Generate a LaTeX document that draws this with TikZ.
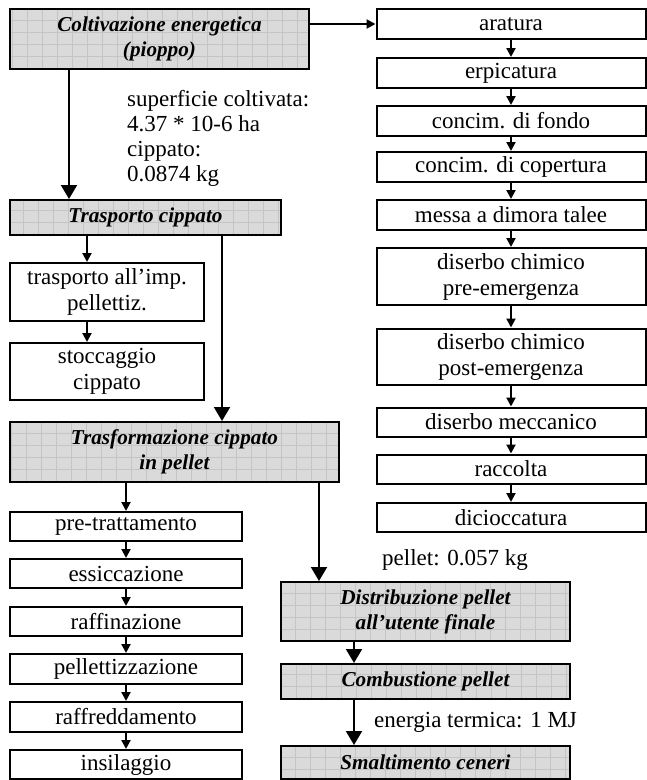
\documentclass[tikz,border=0pt]{standalone}
\usepackage{fontspec}
\setmainfont{Liberation Serif}
\usetikzlibrary{arrows.meta, positioning}
\definecolor{boxgrey}{RGB}{218, 218, 218}
\definecolor{gridgrey}{RGB}{196, 196, 196}
\tikzset{
    stepbox/.style={
        draw, line width=2pt, fill=white, inner sep=1pt, align=center,
        font=\fontsize{23}{26}\selectfont
    },
    phasebox/.style={
        stepbox, font=\fontsize{21.2}{25}\selectfont\bfseries\itshape,
        path picture={
            \fill[boxgrey] (path picture bounding box.south west) rectangle (path picture bounding box.north east);
            \draw[gridgrey, line width=0.8pt, xstep=15pt, ystep=12pt]
                (path picture bounding box.south west) grid (path picture bounding box.north east);
        }
    },
    bigarrow/.style={
        -{Triangle[length=14pt, width=16pt]}, line width=2pt
    },
    smallarrow/.style={
        -{Triangle[length=9pt, width=9pt]}, line width=2pt
    },
    notetext/.style={
        font=\fontsize{23}{25}\selectfont, align=left, inner sep=0pt
    }
}

\begin{document}
\begin{tikzpicture}[x=1pt, y=-1pt]
    \useasboundingbox (0,0) rectangle (647,780);

    % --- 1. FASI PRINCIPALI ---
    \node[phasebox, minimum width=299pt, minimum height=60pt] (colt) at (159.5,39) {Coltivazione energetica\\(pioppo)};
    \node[phasebox, minimum width=271pt, minimum height=35pt] (trasp) at (145.5,217.5) {Trasporto cippato};
    \node[phasebox, minimum width=329pt, minimum height=60pt] (trasf) at (174.5,452) {Trasformazione cippato\\in pellet};
    \node[phasebox, minimum width=289pt, minimum height=59pt] (distr) at (425.5,611.5) {Distribuzione pellet\\all'utente finale};
    \node[phasebox, minimum width=289pt, minimum height=35pt] (comb) at (425.5,681.5) {Combustione pellet};
    \node[phasebox, minimum width=289pt, minimum height=33pt] (smalt) at (425.5,762.5) {Smaltimento ceneri};

    % --- 2. COLTIVAZIONE (colonna destra) ---
    \node[stepbox, minimum width=269pt, minimum height=30pt] (arat) at (511,24) {aratura};
    \node[stepbox, minimum width=269pt, minimum height=30pt] (erp) at (511,73) {erpicatura};
    \node[stepbox, minimum width=269pt, minimum height=30pt] (fondo) at (511,121) {concim. di fondo};
    \node[stepbox, minimum width=269pt, minimum height=30pt] (cop) at (511,167) {concim. di copertura};
    \node[stepbox, minimum width=269pt, minimum height=30pt] (messa) at (511,215) {messa a dimora talee};
    \node[stepbox, minimum width=269pt, minimum height=57pt] (dpre) at (511,276.5) {diserbo chimico\\pre-emergenza};
    \node[stepbox, minimum width=269pt, minimum height=56pt] (dpost) at (511,356.5) {diserbo chimico\\post-emergenza};
    \node[stepbox, minimum width=269pt, minimum height=29pt] (mecc) at (511,422) {diserbo meccanico};
    \node[stepbox, minimum width=269pt, minimum height=29pt] (racc) at (511,469) {raccolta};
    \node[stepbox, minimum width=269pt, minimum height=29pt] (dicio) at (511,517.5) {dicioccatura};

    % --- 3. TRASPORTO E PELLETTIZZAZIONE (colonna sinistra) ---
    \node[stepbox, minimum width=194pt, minimum height=58pt] (imp) at (107,292) {trasporto all'imp.\\pellettiz.};
    \node[stepbox, minimum width=194pt, minimum height=57pt] (stocc) at (107,371.5) {stoccaggio\\cippato};
    \node[stepbox, minimum width=232pt, minimum height=29pt] (pretr) at (126,526.5) {pre-trattamento};
    \node[stepbox, minimum width=232pt, minimum height=29pt] (essic) at (126,573.5) {essiccazione};
    \node[stepbox, minimum width=232pt, minimum height=29pt] (raffin) at (126,621.5) {raffinazione};
    \node[stepbox, minimum width=232pt, minimum height=30pt] (pellz) at (126,669) {pellettizzazione};
    \node[stepbox, minimum width=232pt, minimum height=30pt] (raffr) at (126,717) {raffreddamento};
    \node[stepbox, minimum width=232pt, minimum height=29pt] (insil) at (126,764.5) {insilaggio};

    % --- 4. QUANTITA' ---
    \node[notetext, anchor=north west] (qcolt) at (127,90.3) {superficie coltivata:\\4.37 * 10-6 ha\\cippato:\\0.0874 kg};
    \node[notetext, anchor=base west] (qpell) at (382,565) {pellet: 0.057 kg};
    \node[notetext, anchor=base west] (qener) at (374,727) {energia termica: 1 MJ};

    % --- 5. FRECCE ---
    \draw[smallarrow] (colt.east |- arat.west) -- (arat.west);
    \draw[bigarrow] ([xshift=60pt]colt.south west) -- ([xshift=60pt]colt.south west |- trasp.north);
    \draw[smallarrow] ([xshift=78pt]trasp.south west) -- ([xshift=78pt]trasp.south west |- imp.north);
    \draw[smallarrow] ([xshift=78pt]imp.south west) -- ([xshift=78pt]imp.south west |- stocc.north);
    \draw[bigarrow] ([xshift=213pt]trasp.south west) -- ([xshift=213pt]trasp.south west |- trasf.north);
    \draw[smallarrow] (trasf.south -| pretr.north) -- (pretr.north);
    \draw[bigarrow] ([xshift=310pt]trasf.south west) -- ([xshift=310pt]trasf.south west |- distr.north);
    \draw[bigarrow] ([xshift=74pt]distr.south west) -- ([xshift=74pt]distr.south west |- comb.north);
    \draw[bigarrow] ([xshift=74pt]comb.south west) -- ([xshift=74pt]comb.south west |- smalt.north);

    % passi della coltivazione
    \draw[smallarrow] (arat.south) -- (erp.north);
    \draw[smallarrow] (erp.south) -- (fondo.north);
    \draw[smallarrow] (fondo.south) -- (cop.north);
    \draw[smallarrow] (cop.south) -- (messa.north);
    \draw[smallarrow] (messa.south) -- (dpre.north);
    \draw[smallarrow] (dpre.south) -- (dpost.north);
    \draw[smallarrow] (dpost.south) -- (mecc.north);
    \draw[smallarrow] (mecc.south) -- (racc.north);
    \draw[smallarrow] (racc.south) -- (dicio.north);

    % passi della pellettizzazione
    \draw[smallarrow] (pretr.south) -- (essic.north);
    \draw[smallarrow] (essic.south) -- (raffin.north);
    \draw[smallarrow] (raffin.south) -- (pellz.north);
    \draw[smallarrow] (pellz.south) -- (raffr.north);
    \draw[smallarrow] (raffr.south) -- (insil.north);

\end{tikzpicture}
\end{document}
